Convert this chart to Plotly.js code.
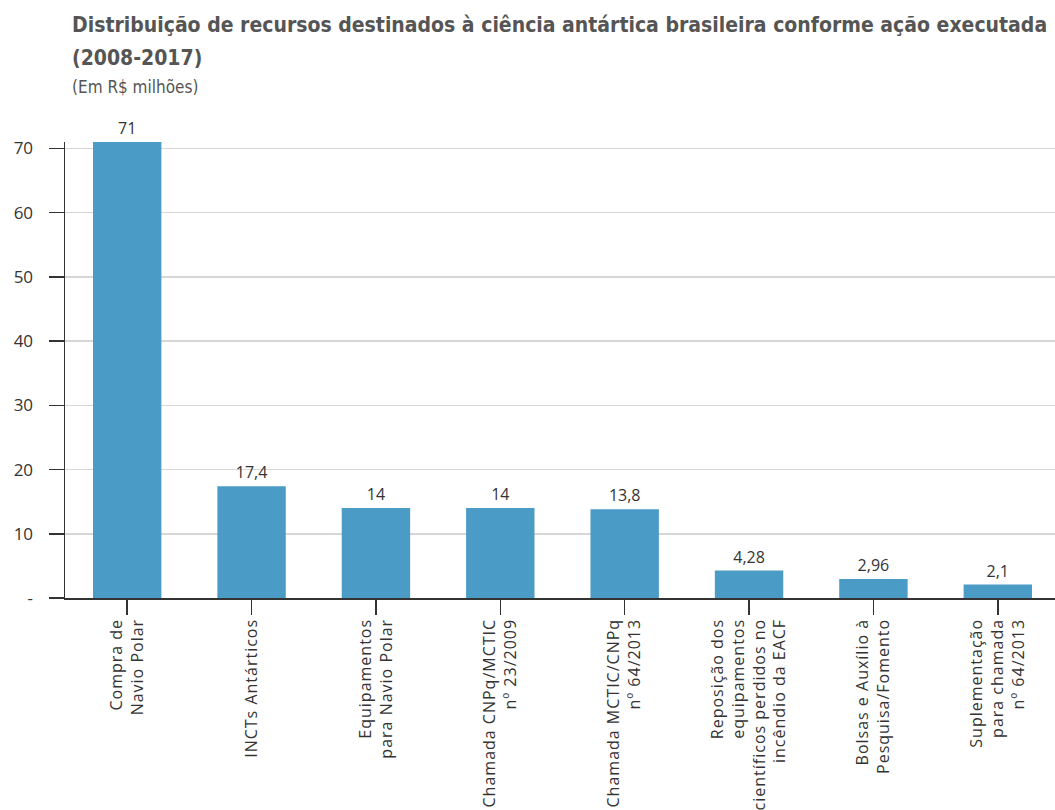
<!DOCTYPE html>
<html>
<head>
<meta charset="utf-8">
<script src="https://cdn.plot.ly/plotly-3.0.1.min.js"></script>
<style>
html,body{margin:0;padding:0;background:#fff;}
#chart{width:1055px;height:810px;}
#chart .annotation-text{font-stretch:condensed !important;}
#chart .xtick text{letter-spacing:1px;}
</style>
</head>
<body>
<div id="chart"></div>
<script>
const categories = [
  "Compra de<br>Navio Polar",
  "INCTs Antárticos",
  "Equipamentos<br>para Navio Polar",
  "Chamada CNPq/MCTIC<br>nº 23/2009",
  "Chamada MCTIC/CNPq<br>nº 64/2013",
  "Reposição dos<br>equipamentos<br>científicos perdidos no<br>incêndio da EACF",
  "Bolsas e Auxílio à<br>Pesquisa/Fomento",
  "Suplementação<br>para chamada<br>nº 64/2013"
];
const values = [71, 17.4, 14, 14, 13.8, 4.28, 2.96, 2.1];
const valueLabels = values.map(v => String(v).replace('.', ','));
const yTickVals = [0, 10, 20, 30, 40, 50, 60, 70];
const yTickText = ["-", "10", "20", "30", "40", "50", "60", "70"];
const titleLine1 = 'Distribuição de recursos destinados à ciência antártica brasileira conforme ação executada';
const titleLine2 = '(2008-2017)';
const subtitleText = '(Em R$ milhões)';

const trace = {
  type: 'bar',
  x: categories.map((c, i) => i),
  y: values,
  text: valueLabels,
  textposition: 'outside',
  cliponaxis: false,
  textfont: {family: 'Open Sans, sans-serif', size: 16, color: '#333'},
  marker: {color: '#4a9bc6'},
  width: 0.55,
  hoverinfo: 'none'
};

const plotTop = 142, plotH = 456;
const py = p => 1 + (plotTop - p) / plotH;
const titleFont = {family: 'DejaVu Sans, sans-serif', size: 21, color: '#555'};

const layout = {
  width: 1055, height: 810,
  margin: {l: 65, r: 0, t: plotTop, b: 810 - plotTop - plotH},
  paper_bgcolor: '#fff', plot_bgcolor: '#fff',
  showlegend: false,
  annotations: [{
    text: '<b>' + titleLine1 + '</b>',
    xref: 'paper', yref: 'paper',
    x: 5/990, xanchor: 'left', align: 'left',
    y: py(11), yanchor: 'top',
    showarrow: false, font: titleFont
  }, {
    text: '<b>' + titleLine2 + '</b>',
    xref: 'paper', yref: 'paper',
    x: 5/990, xanchor: 'left', align: 'left',
    y: py(44), yanchor: 'top',
    showarrow: false, font: titleFont
  }, {
    text: subtitleText,
    xref: 'paper', yref: 'paper',
    x: 5/990, xanchor: 'left', align: 'left',
    y: py(75), yanchor: 'top',
    showarrow: false,
    font: {family: 'DejaVu Sans, sans-serif', size: 17, color: '#555'}
  }],
  xaxis: {
    range: [-0.5, 7.46],
    tickmode: 'array',
    tickvals: categories.map((c, i) => i),
    ticktext: categories,
    tickson: 'boundaries',
    ticks: 'outside', ticklen: 15, tickwidth: 1.5, tickcolor: '#333',
    tickangle: -90,
    ticklabelstandoff: -2,
    tickfont: {family: 'Open Sans, sans-serif', size: 16, color: '#333'},
    showline: true, linecolor: '#333', linewidth: 1.5,
    showgrid: false, zeroline: false, fixedrange: true
  },
  yaxis: {
    range: [0, 71],
    tickmode: 'array',
    tickvals: yTickVals,
    ticktext: yTickText,
    ticks: 'outside', ticklen: 15, tickwidth: 1.5, tickcolor: '#333',
    ticklabelstandoff: 12,
    tickfont: {family: 'Open Sans, sans-serif', size: 17, color: '#333'},
    showline: true, linecolor: '#333', linewidth: 1.5,
    showgrid: true, gridcolor: '#d6d6d6', gridwidth: 1.5,
    zeroline: false, fixedrange: true
  },
  bargap: 0.45
};

Plotly.newPlot('chart', [trace], layout, {displayModeBar: false, staticPlot: true});
</script>
</body>
</html>
